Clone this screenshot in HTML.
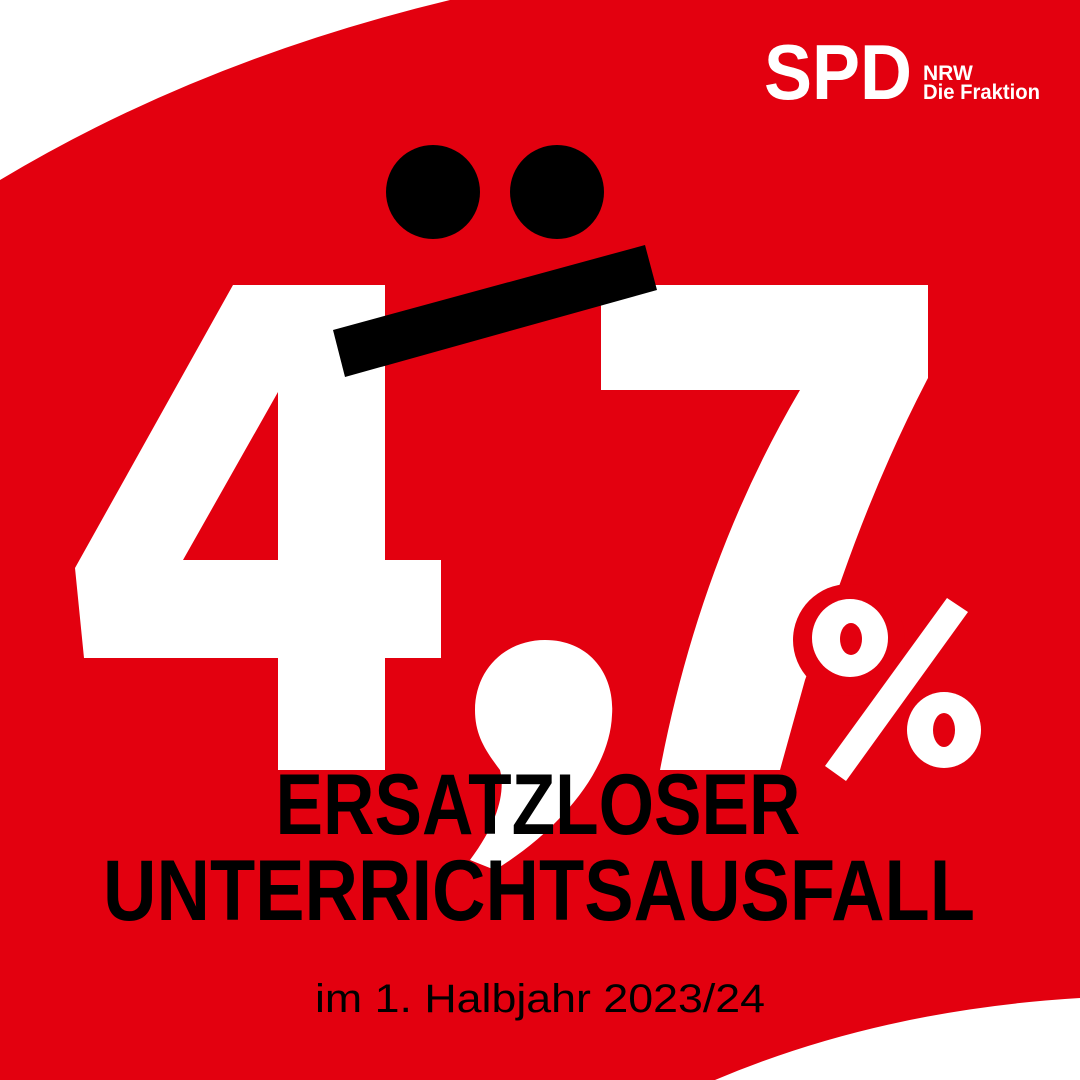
<!DOCTYPE html>
<html><head><meta charset="utf-8"><style>
html,body{margin:0;padding:0;background:#e3000f}
svg{display:block}
</style></head><body>
<svg width="1080" height="1080" viewBox="0 0 1080 1080" xmlns="http://www.w3.org/2000/svg">
<rect width="1080" height="1080" fill="#e3000f"/>
<path d="M0,0 L450,0 Q200,60 0,180 Z" fill="#fff"/>
<path d="M1080,998 Q880,1010 715,1080 L1080,1080 Z" fill="#fff"/>
<path fill="#fff" fill-rule="evenodd" d="M233,285 L385,285 L385,560 L441,560 L441,658 L385,658 L385,770 L278,770 L278,658 L84,658 L75,568 Z M278,392 L278,560 L183,560 Z"/>
<path fill="#fff" d="M601,285 L928,285 L928,378 Q880,470 842,578 L805,680 L780,770 L660,770 Q700,560 800,390 L601,390 Z"/>
<path fill="#fff" d="M545,640 C590,640 615,675 612,715 C610,770 560,830 495,870 L470,860 C500,820 505,790 500,770 C485,750 475,735 475,710 C475,670 505,640 545,640 Z"/>
<circle cx="849" cy="640" r="56" fill="#e3000f"/>
<ellipse cx="850" cy="638" rx="38" ry="39" fill="#fff"/>
<ellipse cx="851" cy="639" rx="11" ry="16" fill="#e3000f"/>
<polygon points="947,598 968,612 846,781 825,766" fill="#fff"/>
<ellipse cx="944" cy="730" rx="37" ry="38" fill="#fff"/>
<ellipse cx="944" cy="730" rx="11" ry="17" fill="#e3000f"/>
<circle cx="433" cy="192" r="47" fill="#000"/>
<circle cx="557" cy="192" r="47" fill="#000"/>
<polygon points="333,330 645,245 657,290 345,377" fill="#000"/>
<text x="538" y="834" text-anchor="middle" font-family="'Liberation Sans Narrow','Liberation Sans',sans-serif" font-weight="bold" font-size="86" textLength="525" lengthAdjust="spacingAndGlyphs" fill="#000">ERSATZLOSER</text>
<text x="539" y="920" text-anchor="middle" font-family="'Liberation Sans Narrow','Liberation Sans',sans-serif" font-weight="bold" font-size="86" textLength="872" lengthAdjust="spacingAndGlyphs" fill="#000">UNTERRICHTSAUSFALL</text>
<text x="540" y="1012" text-anchor="middle" font-family="'Liberation Sans',sans-serif" font-size="40" textLength="450" lengthAdjust="spacingAndGlyphs" fill="#000">im 1. Halbjahr 2023/24</text>
<text x="764" y="99" font-family="'Liberation Sans',sans-serif" font-weight="bold" font-size="78" textLength="148" lengthAdjust="spacingAndGlyphs" fill="#fff">SPD</text>
<text x="923" y="80" font-family="'Liberation Sans',sans-serif" font-weight="bold" font-size="21" fill="#fff">NRW</text>
<text x="923" y="99" font-family="'Liberation Sans',sans-serif" font-weight="bold" font-size="21" textLength="117" lengthAdjust="spacingAndGlyphs" fill="#fff">Die Fraktion</text>
</svg>
</body></html>
